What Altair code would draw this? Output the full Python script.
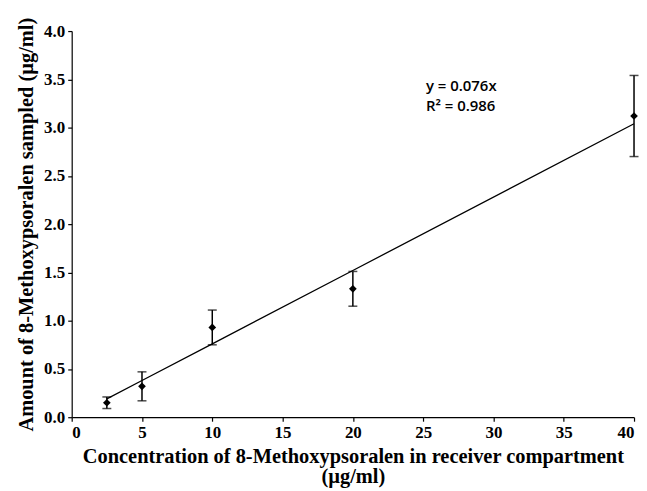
import altair as alt
import pandas as pd

conc = [2.5, 5, 10, 20, 40]
amount = [0.15, 0.32, 0.93, 1.33, 3.12]
err = [0.06, 0.15, 0.18, 0.18, 0.42]
slope = 0.076
r2 = 0.986

df = pd.DataFrame({"x": conc, "y": amount, "e": err})
df["lo"] = df["y"] - df["e"]
df["hi"] = df["y"] + df["e"]

serif = "Liberation Serif"
xs = alt.Scale(domain=[0, 40], nice=False)
ys = alt.Scale(domain=[0, 4], nice=False)

xaxis = alt.Axis(values=list(range(0, 41, 5)), format="d",
                 title=["Concentration of 8-Methoxypsoralen in receiver  compartment", "(µg/ml)"])
yaxis = alt.Axis(values=[i * 0.5 for i in range(9)], format=".1f",
                 title="Amount of 8-Methoxypsoralen sampled (µg/ml)")

base = alt.Chart(df)

line = base.transform_calculate(fit=f"{slope} * datum.x").mark_line(
    color="black", strokeWidth=1.3
).encode(
    x=alt.X("x:Q", scale=xs, axis=xaxis),
    y=alt.Y("fit:Q", scale=ys, axis=yaxis),
)

rule = base.mark_rule(color="black", strokeWidth=1.5).encode(
    x="x:Q", y="lo:Q", y2="hi:Q"
)
cap_lo = base.mark_tick(color="black", orient="horizontal", size=9, thickness=1.5).encode(
    x="x:Q", y="lo:Q"
)
cap_hi = base.mark_tick(color="black", orient="horizontal", size=9, thickness=1.5).encode(
    x="x:Q", y="hi:Q"
)
pts = base.mark_point(shape="diamond", filled=True, color="black", size=60, opacity=1).encode(
    x="x:Q", y="y:Q"
)

ann = pd.DataFrame({"tx": [25.2, 25.2], "ty": [3.43, 3.22],
                    "t": [f"y = {slope}x", f"R² = {r2}"]})
text = alt.Chart(ann).mark_text(align="left", baseline="middle", font="Open Sans",
                                fontSize=15, fontWeight=600, color="black").encode(
    x="tx:Q", y="ty:Q", text="t:N"
)

chart = alt.layer(line, rule, cap_lo, cap_hi, pts, text).properties(
    width=565, height=388,
    padding={"left": 64, "top": 22, "right": 5, "bottom": 80},
    autosize=alt.AutoSizeParams(type="none"),
).configure_view(stroke=None).configure_axis(
    grid=False, domainColor="black", domainWidth=1.2, tickColor="black", tickWidth=1.2,
    tickSize=4, labelFont=serif, labelFontWeight="bold", labelFontSize=17,
    labelColor="black", titleFont=serif, titleFontWeight="bold", titleFontSize=20.5,
    titleColor="black", labelPadding=3
).configure_axisY(titlePadding=7).configure_axisX(titlePadding=6, titleLineHeight=21)

chart.save("out.html", embed_options={"renderer": "svg", "actions": False})
